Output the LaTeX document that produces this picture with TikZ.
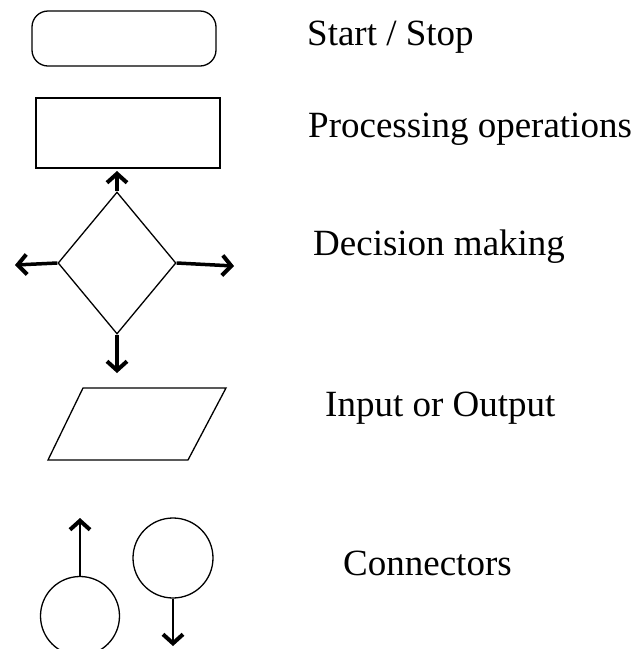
\documentclass[tikz,border=0pt]{standalone}
\usepackage{fontspec}
\setmainfont{Liberation Serif}
\usetikzlibrary{shapes.geometric,arrows.meta}
\tikzset{
  symbol/.style={draw, line width=1.3pt, inner sep=0pt},
  flow/.style={line width=3.5pt, -{Straight Barb[length=9pt,width=20pt,line width=4pt]}},
  link/.style={line width=1.5pt, -{Straight Barb[length=9pt,width=20pt,line width=4pt]}},
  note/.style={anchor=base west, inner sep=0pt, font=\fontsize{37}{44}\selectfont}
}
\begin{document}
\begin{tikzpicture}[x=1pt,y=-1pt]
    % flowchart symbols and their meaning
    \useasboundingbox (0,0) rectangle (643,649);
    \node[symbol, rounded corners=16pt, minimum width=184pt, minimum height=55pt] (term) at (124,38.5) {};
    \node[symbol, minimum width=184pt, minimum height=70pt] (proc) at (128,133) {};
    \node[symbol, diamond, minimum width=118pt, minimum height=142pt] (dec) at (117,263) {};
    \coordinate (up) at (117,171);
    \coordinate (lt) at (15,265);
    \coordinate (rt) at (234,266);
    \coordinate (dn) at (117,373);
    \draw[flow] (dec.north) -- (up);
    \draw[flow] (dec.west) -- (lt);
    \draw[flow] (dec.east) -- (rt);
    \draw[flow] (dec.south) -- (dn);
    \draw[line width=1.3pt] (83,388) -- (226,388) -- (188,460) -- (48,460) -- cycle;
    % connectors
    \node[symbol, circle, minimum size=79pt] (in) at (80,616) {};
    \node[symbol, circle, minimum size=80pt] (out) at (173,558) {};
    \coordinate (inend) at (80,518);
    \coordinate (outend) at (173,646);
    \draw[link] (in.north) -- (inend);
    \draw[link] (out.south) -- (outend);
    % texts
    \node[note] (t1) at (307,45) {Start / Stop};
    \node[note] (t2) at (308,137) {Processing operations};
    \node[note] (t3) at (313,255) {Decision making};
    \node[note] (t4) at (325,416) {Input or Output};
    \node[note] (t5) at (343,575) {Connectors};
\end{tikzpicture}
\end{document}
